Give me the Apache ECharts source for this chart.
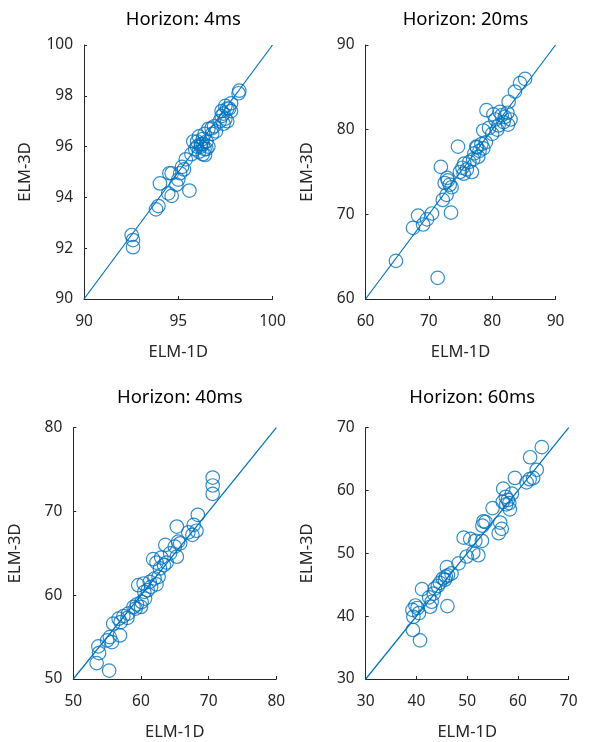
<!DOCTYPE html>
<html>
<head>
<meta charset="utf-8">
<script src="https://cdn.jsdelivr.net/npm/echarts@6/dist/echarts.min.js"></script>
<style>html,body{margin:0;padding:0;background:#fff}#c{width:592px;height:742px}</style>
</head>
<body>
<div id="c"></div>
<script>
// ---- Data (ELM-1D on x, ELM-3D on y) ----
const titles = ["Horizon: 4ms", "Horizon: 20ms", "Horizon: 40ms", "Horizon: 60ms"];
const xAxisName = "ELM-1D";
const yAxisName = "ELM-3D";

const axisMin = [90, 60, 50, 30];
const axisMax = [100, 90, 80, 70];
const xTickStep = [5, 10, 10, 10];
const yTickStep = [2, 10, 10, 10];

const h4ms = [
  [92.53,92.52],[92.6,92.32],[92.6,92.04],
  [93.82,93.53],[93.95,93.66],[94.03,94.55],
  [94.47,94.16],[94.65,94.06],[95.59,94.27],
  [94.53,94.95],[94.65,94.95],[95.1,94.95],[95.0,94.7],[94.9,94.5],[95.2,95.2],[95.3,95.1],
  [95.4,95.5],[95.7,95.7],[95.9,95.9],[95.8,96.2],
  [96.0,96.0],[96.1,95.8],[96.2,96.1],[96.3,96.3],[96.4,95.9],[96.1,96.4],[96.3,95.7],[96.5,96.2],
  [96.4,96.5],[96.6,96.7],[96.2,96.0],[96.5,95.9],[96.0,96.2],[96.6,96.0],[96.42,95.67],[96.3,96.1],
  [96.77,96.72],[96.8,96.5],[96.9,96.8],[97.0,96.6],
  [97.2,97.0],[97.3,97.2],[97.4,97.3],[97.5,97.1],[97.6,97.5],[97.5,97.6],[97.7,97.5],[97.8,97.7],
  [97.8,97.4],[97.4,96.9],[97.6,97.0],[97.3,97.4],
  [98.24,98.2],[98.2,98.1]
];
const h20ms = [
  [64.8,64.5],[71.4,62.5],[67.5,68.4],[68.3,69.85],[69.1,68.8],[69.7,69.4],[70.5,70.1],[73.5,70.2],
  [72.2,71.7],[72.8,72.3],[72.5,73.7],[73.0,74.0],[73.3,73.5],[72.9,74.3],[73.6,73.2],[71.9,75.6],[74.6,78.0],
  [74.9,75.0],[75.3,75.5],[75.6,76.0],[76.0,75.3],[76.4,76.2],[76.8,75.0],[75.5,74.8],[77.0,76.5],
  [77.2,77.2],[77.5,78.0],[78.0,77.5],[78.3,78.3],[77.8,76.8],[78.6,77.8],[79.0,78.5],[77.6,77.9],
  [78.6,79.9],[79.1,82.3],[79.5,80.2],[80.0,79.5],
  [80.5,81.2],[81.0,80.5],[81.5,81.7],[81.8,80.9],[82.0,81.5],[82.5,80.6],[82.9,81.2],[80.2,81.8],
  [81.2,82.1],[82.4,82.0],[80.8,80.0],
  [82.6,83.3],[83.6,84.5],[84.4,85.5],[85.2,86.0]
];
const h40ms = [
  [55.3,51.0],[53.45,51.9],[53.8,53.1],[53.7,53.9],[55.7,54.4],[55.4,55.0],[56.9,55.2],[55.0,54.6],
  [55.9,56.6],[56.7,57.2],[57.4,57.5],[58.1,57.8],[57.0,56.8],[58.0,57.3],
  [58.9,58.6],[59.4,58.9],[60.1,59.2],[60.6,59.6],[59.2,58.4],[60.0,58.6],
  [59.6,61.2],[60.4,61.4],[61.3,61.6],[62.0,62.0],[62.6,62.2],[61.0,60.6],[61.5,61.0],[62.3,61.3],[60.5,60.4],
  [61.8,64.3],[62.3,63.9],[63.0,64.5],[63.8,63.9],[62.8,63.2],[63.4,63.6],
  [63.6,66.0],[65.0,65.8],[65.5,66.4],[65.3,64.6],[64.3,65.0],[65.8,66.2],
  [65.3,68.2],[67.0,67.5],[67.8,68.4],[68.2,67.7],[68.4,69.6],[67.6,67.2],
  [70.6,74.05],[70.6,73.1],[70.6,72.1]
];
const h60ms = [
  [40.7,36.15],[39.3,37.8],[39.4,39.9],[39.2,41.0],[40.2,41.3],[39.8,41.7],[40.5,40.5],
  [41.1,44.3],[42.7,41.5],[43.0,42.3],[42.5,43.0],[43.4,43.6],[46.1,41.6],
  [43.6,44.4],[44.6,45.3],[45.6,45.8],[46.2,46.5],[46.9,46.8],[45.2,46.0],[46.0,47.8],[44.2,44.8],[45.8,46.3],
  [48.3,48.4],[49.9,49.5],[51.2,50.1],[52.2,49.7],[52.9,52.0],[50.6,52.3],[49.3,52.5],[51.6,52.0],
  [53.0,54.4],[53.6,55.0],[55.0,57.2],[53.2,55.1],
  [56.2,53.2],[56.8,53.9],[56.5,54.9],
  [57.1,60.3],[57.7,57.8],[58.4,57.0],[57.0,58.2],[58.0,58.5],[58.8,59.5],[57.6,59.0],[58.3,58.0],
  [59.4,62.0],[61.7,61.3],[62.3,61.8],[63.0,62.0],[63.7,63.3],[62.4,65.3],[64.7,66.9]
];
const panelData = [h4ms, h20ms, h40ms, h60ms];

// ---- Layout ----
const grids = [
  {left: 84, top: 45, width: 188.5, height: 254},
  {left: 365.5, top: 45, width: 190, height: 254},
  {left: 73.3, top: 427.7, width: 203, height: 255},
  {left: 365.7, top: 427.7, width: 203, height: 255.6}
];
const titleTops = [5, 5, 383, 383];
const BLUE = '#0072BD';
const AX = '#262626';
const FONT = 'Noto Sans';

const option = {
  animation: false,
  backgroundColor: '#fff',
  title: grids.map((g, i) => ({
    text: titles[i],
    left: g.left + g.width / 2,
    top: titleTops[i],
    textAlign: 'center',
    textStyle: {fontFamily: FONT, fontSize: 18.5, fontWeight: 'normal', color: '#000'}
  })),
  grid: grids.map(g => Object.assign({containLabel: false}, g)),
  xAxis: grids.map((g, i) => ({
    gridIndex: i, type: 'value', min: axisMin[i], max: axisMax[i], interval: xTickStep[i],
    name: xAxisName, nameLocation: 'middle', nameGap: 45,
    nameTextStyle: {fontFamily: FONT, fontSize: 16.5, color: AX},
    axisLine: {show: true, lineStyle: {color: AX, width: 1}},
    axisTick: {show: true, inside: true, length: 3, lineStyle: {color: AX}},
    axisLabel: {fontFamily: FONT, fontSize: 15.5, color: AX, margin: 15},
    splitLine: {show: false}
  })),
  yAxis: grids.map((g, i) => ({
    gridIndex: i, type: 'value', min: axisMin[i], max: axisMax[i], interval: yTickStep[i],
    name: yAxisName, nameLocation: 'middle', nameGap: 50,
    nameTextStyle: {fontFamily: FONT, fontSize: 16.5, color: AX},
    axisLine: {show: true, lineStyle: {color: AX, width: 1}},
    axisTick: {show: true, inside: true, length: 3, lineStyle: {color: AX}},
    axisLabel: {fontFamily: FONT, fontSize: 15.5, color: AX, margin: 11},
    splitLine: {show: false}
  })),
  series: []
};

panelData.forEach((d, i) => {
  option.series.push({
    type: 'line', xAxisIndex: i, yAxisIndex: i,
    data: [[axisMin[i], axisMin[i]], [axisMax[i], axisMax[i]]],
    symbol: 'none', silent: true,
    lineStyle: {color: BLUE, width: 1.2}, z: 1
  });
  option.series.push({
    type: 'scatter', xAxisIndex: i, yAxisIndex: i,
    data: d, symbol: 'circle', symbolSize: 13.5,
    itemStyle: {color: 'rgba(0,0,0,0)', borderColor: BLUE, borderWidth: 1.2},
    z: 2
  });
});

const chart = echarts.init(document.getElementById('c'), null, {renderer: 'canvas'});
chart.setOption(option);
</script>
</body>
</html>
